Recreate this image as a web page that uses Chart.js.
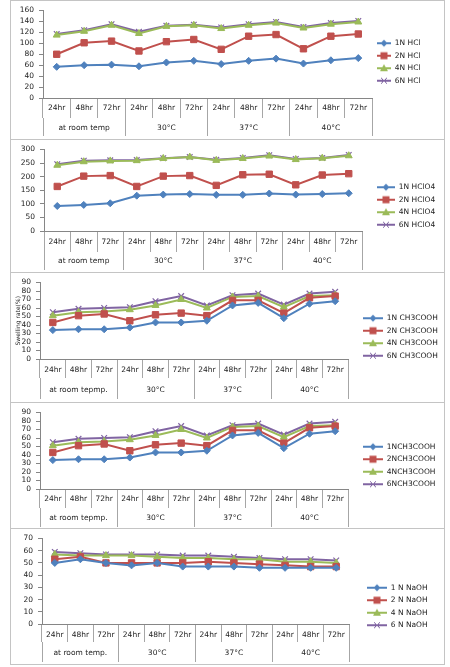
<!DOCTYPE html>
<html>
<head>
<meta charset="utf-8">
<script src="https://cdn.jsdelivr.net/npm/chart.js@4.4.1/dist/chart.umd.min.js"></script>
<style>
  body { margin: 0; background: #fff; }
  .panel { position: absolute; left: 10px; width: 435px; box-sizing: border-box;
           border: 1px solid #c4c4c4; border-bottom: none; overflow: hidden; background: #fff; }
  .panel.last { border-bottom: 1px solid #c4c4c4; }
  canvas { display: block; }
</style>
</head>
<body>
<div class="panel" style="top:0;height:139px"><canvas id="c1"></canvas></div>
<div class="panel" style="top:139px;height:133px"><canvas id="c2"></canvas></div>
<div class="panel" style="top:272px;height:130px"><canvas id="c3"></canvas></div>
<div class="panel" style="top:402px;height:126px"><canvas id="c4"></canvas></div>
<div class="panel last" style="top:528px;height:137px"><canvas id="c5"></canvas></div>
<script>
// categories
const timeLabels = ['24hr', '48hr', '72hr', '24hr', '48hr', '72hr', '24hr', '48hr', '72hr', '24hr', '48hr', '72hr'];
const groupsHcl = ['at room temp', '30°C', '37°C', '40°C'];
const groupsAcetic = ['at room tepmp.', '30°C', '37°C', '40°C'];
const groupsNaoh = ['at room temp.', '30°C', '37°C', '40°C'];

// HCl
const hclNames = ['1N HCl', '2N HCl', '4N HCl', '6N HCl'];
const hcl1 = [57, 60, 61, 58, 65, 68, 62, 68, 72, 63, 69, 73];
const hcl2 = [80, 101, 104, 86, 103, 107, 89, 113, 116, 90, 113, 117];
const hcl4 = [115, 122, 133, 118, 131, 133, 127, 133, 137, 128, 135, 139];
const hcl6 = [117, 124, 135, 121, 132, 134, 129, 135, 139, 130, 137, 141];

// HClO4
const hclo4Names = ['1N HClO4', '2N HClO4', '4N HClO4', '6N HClO4'];
const hclo4_1 = [92, 96, 102, 130, 134, 136, 133, 133, 138, 134, 136, 139];
const hclo4_2 = [164, 202, 204, 164, 202, 204, 168, 207, 209, 170, 206, 211];
const hclo4_4 = [242, 255, 258, 259, 267, 272, 260, 267, 276, 263, 268, 277];
const hclo4_6 = [246, 259, 260, 261, 268, 272, 262, 269, 279, 265, 269, 280];

// CH3COOH (shown twice)
const aceticNamesA = ['1N CH3COOH', '2N CH3COOH', '4N CH3COOH', '6N CH3COOH'];
const aceticNamesB = ['1NCH3COOH', '2NCH3COOH', '4NCH3COOH', '6NCH3COOH'];
const acetic1 = [34, 35, 35, 37, 43, 43, 45, 63, 66, 48, 65, 68];
const acetic2 = [43, 51, 53, 45, 52, 54, 51, 69, 69, 54, 72, 74];
const acetic4 = [51, 55, 56, 58, 63, 70, 60, 73, 74, 61, 74, 75];
const acetic6 = [55, 59, 60, 61, 68, 74, 63, 75, 77, 64, 77, 79];

// NaOH
const naohNames = ['1 N NaOH', '2 N NaOH', '4 N NaOH', '6 N NaOH'];
const naoh1 = [50, 53, 50, 48, 50, 47, 47, 47, 46, 46, 46, 46];
const naoh2 = [53, 55, 50, 50, 50, 50, 51, 50, 49, 48, 47, 47];
const naoh4 = [57, 56, 56, 56, 55, 54, 54, 53, 53, 51, 51, 50];
const naoh6 = [59, 58, 57, 57, 57, 56, 56, 55, 54, 53, 53, 52];

const COLORS = ['#4F81BD', '#C0504D', '#9BBB59', '#8064A2'];
const STYLES = ['rectRot', 'rect', 'triangle', 'crossRot'];
const RADII = [3.5, 4.5, 4, 4];
const FS = 7.5;
const CW = 433;

Chart.defaults.font.family = 'DejaVu Sans';
Chart.defaults.font.size = FS;
Chart.defaults.color = '#222';

// small legend picture: line with the series marker in the middle
function legendIcon(i, gap, len) {
    const c = document.createElement('canvas');
    c.width = gap + len;
    c.height = 10;
    const g = c.getContext('2d');
    const y = 5, cx = gap + len / 2;
    g.strokeStyle = COLORS[i];
    g.fillStyle = COLORS[i];
    g.lineWidth = 2;
    g.beginPath(); g.moveTo(gap, y); g.lineTo(gap + len, y); g.stroke();
    g.lineWidth = 1;
    g.beginPath();
    if (i === 0) {
        g.moveTo(cx, y - 3.5); g.lineTo(cx + 3.5, y); g.lineTo(cx, y + 3.5); g.lineTo(cx - 3.5, y); g.closePath(); g.fill();
    } else if (i === 1) {
        g.fillRect(cx - 3.5, y - 3.5, 7, 7);
    } else if (i === 2) {
        g.moveTo(cx, y - 4); g.lineTo(cx + 4, y + 3); g.lineTo(cx - 4, y + 3); g.closePath(); g.fill();
    } else {
        g.moveTo(cx - 3, y - 3); g.lineTo(cx + 3, y + 3); g.moveTo(cx + 3, y - 3); g.lineTo(cx - 3, y + 3); g.stroke();
    }
    return c;
}

function makePanel(p) {
    const el = document.getElementById(p.id);
    const CH = p.H;
    el.width = CW;
    el.height = CH;

    const padT = p.plotTop;
    // two stacked category rows under the plot: times, then temperature groups
    const h1 = p.row1 - p.plotBottom;
    const h2 = CH - p.row1;
    const tl1 = p.row1 - p.plotBottom;
    const tl2 = p.row2 - p.row1;
    const lh = FS * 1.2;
    const pad1 = p.c1 - p.plotBottom - tl1 - lh / 2;
    const pad2 = p.c2 - p.row1 - tl2 - lh / 2;

    // legend: spacer title pushes the items down to where they sit in the picture
    const itemH = FS, itemPad = 5;
    const firstCenter = p.lc - 1.5 * (itemH + itemPad);
    const titleH = firstCenter - itemH / 2 - itemPad - padT;
    const gap = p.legX - p.plotRight - itemPad;
    const boxW = gap + p.legLen;
    const icons = [0, 1, 2, 3].map(i => legendIcon(i, gap, p.legLen));

    const datasets = p.series.map((d, i) => ({
        label: p.names[i],
        data: d,
        xAxisID: 'x',
        borderColor: COLORS[i],
        backgroundColor: COLORS[i],
        borderWidth: 2,
        tension: 0,
        pointStyle: STYLES[i],
        pointRadius: RADII[i],
        pointBorderColor: COLORS[i],
        pointBackgroundColor: COLORS[i],
        pointBorderWidth: i === 3 ? 1.2 : 1
    }));

    const yScale = {
        min: 0,
        max: p.max,
        ticks: { stepSize: p.step, padding: 5, autoSkip: false },
        grid: { drawOnChartArea: false, tickLength: 4, color: '#868686' },
        border: { color: '#868686' },
        afterFit: s => { s.width = p.plotLeft; }
    };
    if (p.yTitle) {
        yScale.title = { display: true, text: p.yTitle, font: { size: 6 }, padding: { top: 4, bottom: 0 } };
    }

    const chart = new Chart(el, {
        type: 'line',
        data: { labels: timeLabels, datasets: datasets },
        options: {
            responsive: false,
            animation: false,
            devicePixelRatio: 1,
            layout: { padding: { left: 0, right: 0, top: padT, bottom: 0 } },
            scales: {
                x: {
                    type: 'category',
                    offset: true,
                    weight: 0,
                    grid: { offset: true, drawOnChartArea: false, tickLength: tl1, color: '#a6a6a6' },
                    border: { display: true, color: '#868686' },
                    ticks: { autoSkip: false, maxRotation: 0, minRotation: 0, padding: pad1 },
                    afterFit: s => { s.height = h1; }
                },
                x2: {
                    type: 'category',
                    position: 'bottom',
                    labels: p.groups,
                    offset: true,
                    weight: 1,
                    grid: { offset: true, drawOnChartArea: false, tickLength: tl2, color: '#a6a6a6' },
                    border: { display: false },
                    ticks: { autoSkip: false, maxRotation: 0, minRotation: 0, padding: pad2 },
                    afterFit: s => { s.height = h2; }
                },
                y: yScale
            },
            plugins: {
                tooltip: { enabled: false },
                legend: {
                    position: 'right',
                    align: 'start',
                    title: { display: true, text: ' ', font: { size: 1 }, padding: { top: titleH - 1.2, bottom: 0 } },
                    labels: {
                        usePointStyle: true,
                        pointStyleWidth: boxW,
                        padding: itemPad,
                        generateLabels: chart => Chart.defaults.plugins.legend.labels.generateLabels(chart)
                            .map((item, i) => Object.assign(item, { pointStyle: icons[i] }))
                    }
                }
            }
        }
    });

    // push the legend so the plot ends where it should
    const d = chart.chartArea.right - p.plotRight;
    if (Math.abs(d) > 0.5) {
        chart.options.layout.padding.right += d;
        chart.update('none');
    }
    return chart;
}

makePanel({ id: 'c1', H: 138, plotTop: 8, plotBottom: 97, row1: 117, row2: 135, c1: 107, c2: 127, lc: 61,
    plotLeft: 32, plotRight: 361, legX: 366, legLen: 14, max: 160, step: 20,
    groups: groupsHcl, names: hclNames, series: [hcl1, hcl2, hcl4, hcl6] });

makePanel({ id: 'c2', H: 132, plotTop: 8, plotBottom: 91, row1: 112, row2: 130, c1: 102, c2: 121, lc: 66,
    plotLeft: 33, plotRight: 351, legX: 366, legLen: 18, max: 300, step: 50,
    groups: groupsHcl, names: hclo4Names, series: [hclo4_1, hclo4_2, hclo4_4, hclo4_6] });

makePanel({ id: 'c3', H: 129, plotTop: 7, plotBottom: 86, row1: 105, row2: 126, c1: 97, c2: 117, lc: 64,
    plotLeft: 29, plotRight: 337, legX: 352, legLen: 20, max: 90, step: 10, yTitle: 'Swelling rate(%)',
    groups: groupsAcetic, names: aceticNamesA, series: [acetic1, acetic2, acetic4, acetic6] });

makePanel({ id: 'c4', H: 125, plotTop: 7, plotBottom: 86, row1: 105, row2: 124, c1: 96, c2: 115, lc: 62.5,
    plotLeft: 29, plotRight: 337, legX: 352, legLen: 20, max: 90, step: 10,
    groups: groupsAcetic, names: aceticNamesB, series: [acetic1, acetic2, acetic4, acetic6] });

makePanel({ id: 'c5', H: 135, plotTop: 9, plotBottom: 95, row1: 113, row2: 133, c1: 106, c2: 124, lc: 77.5,
    plotLeft: 31, plotRight: 338, legX: 356, legLen: 20, max: 70, step: 10,
    groups: groupsNaoh, names: naohNames, series: [naoh1, naoh2, naoh4, naoh6] });
</script>
</body>
</html>
